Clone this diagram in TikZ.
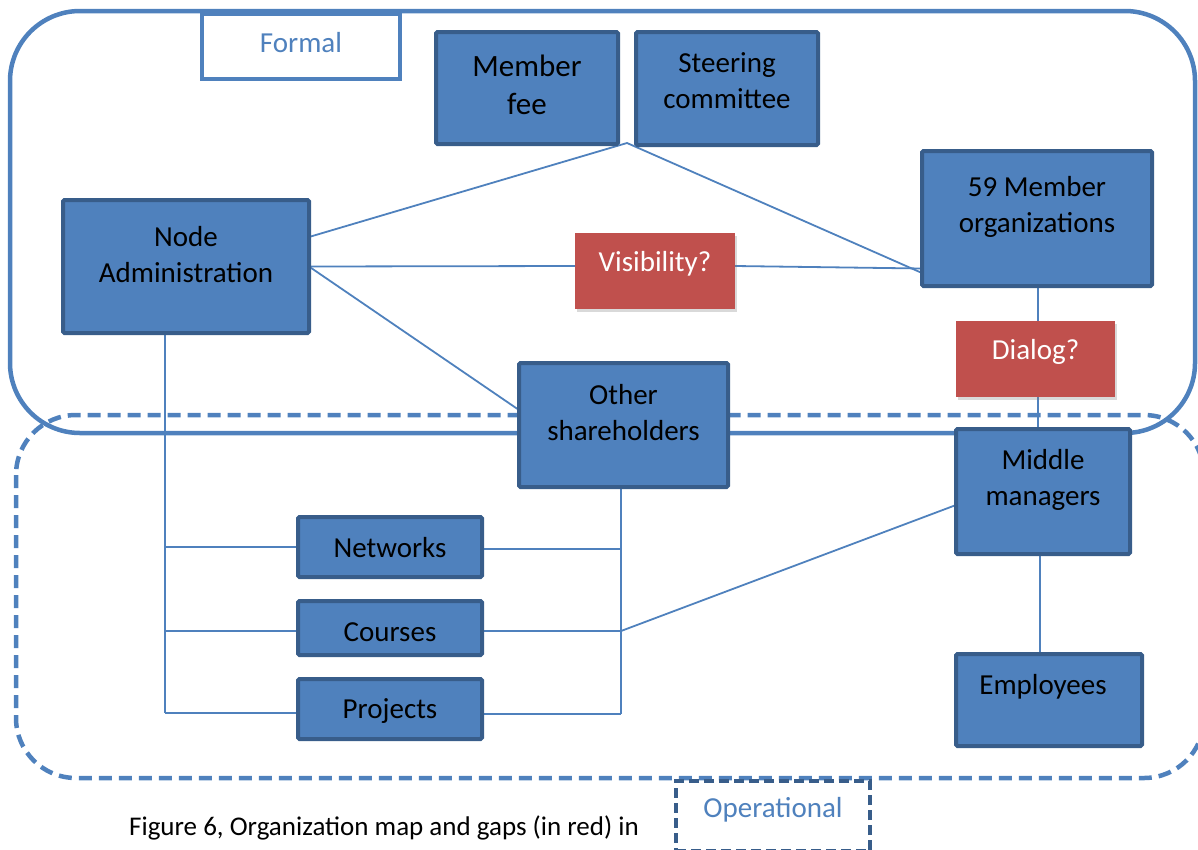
\documentclass[tikz,border=0pt]{standalone}
\usepackage{fontspec}
\setmainfont{Carlito}
\usetikzlibrary{shadows}
\definecolor{acc}{HTML}{4F81BD}
\definecolor{accd}{HTML}{385D8A}
\definecolor{gapred}{HTML}{C0504D}
\pgfdeclarelayer{bg}
\pgfsetlayers{bg,main}
\tikzset{
  box/.style={draw=accd, fill=acc, line width=4pt, rounded corners=1.5pt, inner sep=0pt, outer sep=0pt},
  gapbox/.style={fill=gapred, inner sep=0pt, outer sep=0pt, drop shadow={shadow xshift=1.5pt, shadow yshift=-3pt, opacity=0.3}},
  txt/.style={font=\fontsize{29}{36}\selectfont, align=center, text=black, inner sep=0pt},
  wtxt/.style={txt, text=white},
  conn/.style={draw=acc, line width=1.8pt},
  region/.style={draw=acc, line width=4.5pt, rounded corners=70pt},
  dashregion/.style={region, dash pattern=on 13pt off 7pt},
}
\begin{document}
\begin{tikzpicture}[x=1pt,y=-1pt]
\useasboundingbox (0,0) rectangle (1198,849);

% boxes
\node[box, minimum width=182pt, minimum height=112pt] (fee) at (527,88) {};
\node[box, minimum width=182pt, minimum height=113pt] (steer) at (727,88.5) {};
\node[box, minimum width=246pt, minimum height=133pt] (admin) at (186,266.5) {};
\node[box, minimum width=230pt, minimum height=135pt] (memb) at (1037,218.5) {};
\node[box, minimum width=209pt, minimum height=124pt] (other) at (623.5,425) {};
\node[box, minimum width=174pt, minimum height=125pt] (mid) at (1043,491.5) {};
\node[box, minimum width=184pt, minimum height=60pt] (net) at (390,547) {};
\node[box, minimum width=184pt, minimum height=54pt] (cou) at (390,628) {};
\node[box, minimum width=184pt, minimum height=60pt] (proj) at (390,709) {};
\node[box, minimum width=186pt, minimum height=92pt] (emp) at (1049,700) {};
\node[gapbox, minimum width=160pt, minimum height=76pt] (vis) at (655,271) {};
\node[gapbox, minimum width=159pt, minimum height=76pt] (dia) at (1035.5,359) {};

\begin{pgfonlayer}{bg}
% regions
\draw[region] (10,11) rectangle (1195,433);
\draw[dashregion, rounded corners=60pt] (16,415) rectangle (1204,778);
% connectors
\coordinate (j1) at (627,143);
\coordinate (lb) at (165,0);
\coordinate (rb) at (621,0);
\draw[conn] ([yshift=29.5pt]admin.east) -- (j1) -- ([yshift=-54.5pt]memb.west);
\draw[conn] (admin.east) -- ([yshift=5pt]vis.west);
\draw[conn] ([yshift=5pt]vis.east) -- ([yshift=-50pt]memb.west);
\draw[conn] (admin.east) -- ([yshift=15pt]other.west);
\draw[conn] (memb.south -| 1038,0) -- (dia.north -| 1038,0);
\draw[conn] (dia.south -| 1038,0) -- (mid.north -| 1038,0);
\draw[conn] (mid.south -| 1040,0) -- (emp.north -| 1040,0);
\draw[conn] (admin.south -| lb) -- ([yshift=-4pt]lb |- proj.west);
\draw[conn] (lb |- net.west) -- (net.west);
\draw[conn] ([yshift=-3pt]lb |- cou.west) -- ([yshift=-3pt]cou.west);
\draw[conn] ([yshift=-4pt]lb |- proj.west) -- ([yshift=-4pt]proj.west);
\draw[conn] (other.south -| rb) -- ([yshift=-5pt]rb |- proj.east);
\draw[conn] ([yshift=-2pt]net.east) -- ([yshift=-2pt]rb |- net.east);
\draw[conn] ([yshift=-3pt]cou.east) -- ([yshift=-3pt]rb |- cou.east);
\draw[conn] ([yshift=-5pt]proj.east) -- ([yshift=-5pt]rb |- proj.east);
\draw[conn] ([yshift=-3pt]rb |- cou.east) -- ([yshift=-13.5pt]mid.west);
\end{pgfonlayer}

% texts
\node[txt, font=\fontsize{31}{38}\selectfont] (tfee) at (527,85) {Member\\fee};
\node[txt] (tsteer) at (727,81) {Steering\\committee};
\node[txt] (tadmin) at (186,255) {Node\\Administration};
\node[txt] (tmemb) at (1037,206.5) {59 Member\\organizations};
\node[txt] (tother) at (623.5,413) {Other\\shareholders};
\node[txt] (tmid) at (1043,479.5) {Middle\\managers};
\node[txt] (tnet) at (390,548) {Networks};
\node[txt] (tcou) at (390,632) {Courses};
\node[txt] (tproj) at (390,711) {Projects};
\node[txt] (temp) at (1043,687) {Employees};
\node[wtxt] (tvis) at (655,264) {Visibility?};
\node[wtxt] (tdia) at (1035.5,352) {Dialog?};

% region labels
\node[draw=acc, fill=white, line width=4pt, minimum width=198pt, minimum height=65pt, inner sep=0pt] (formal) at (301,46.5) {};
\node[txt, text=acc] (tformal) at (301,43) {Formal};
\node[draw=accd, fill=white, line width=4pt, dash pattern=on 10pt off 5pt, minimum width=194pt, minimum height=70pt, inner sep=0pt] (oper) at (773,816) {};
\node[txt, text=acc] (toper) at (773,810) {Operational};

% caption
\node[txt, anchor=west, font=\fontsize{27}{30}\selectfont] (cap) at (129,828) {Figure 6, Organization map and gaps (in red) in};
\end{tikzpicture}
\end{document}
